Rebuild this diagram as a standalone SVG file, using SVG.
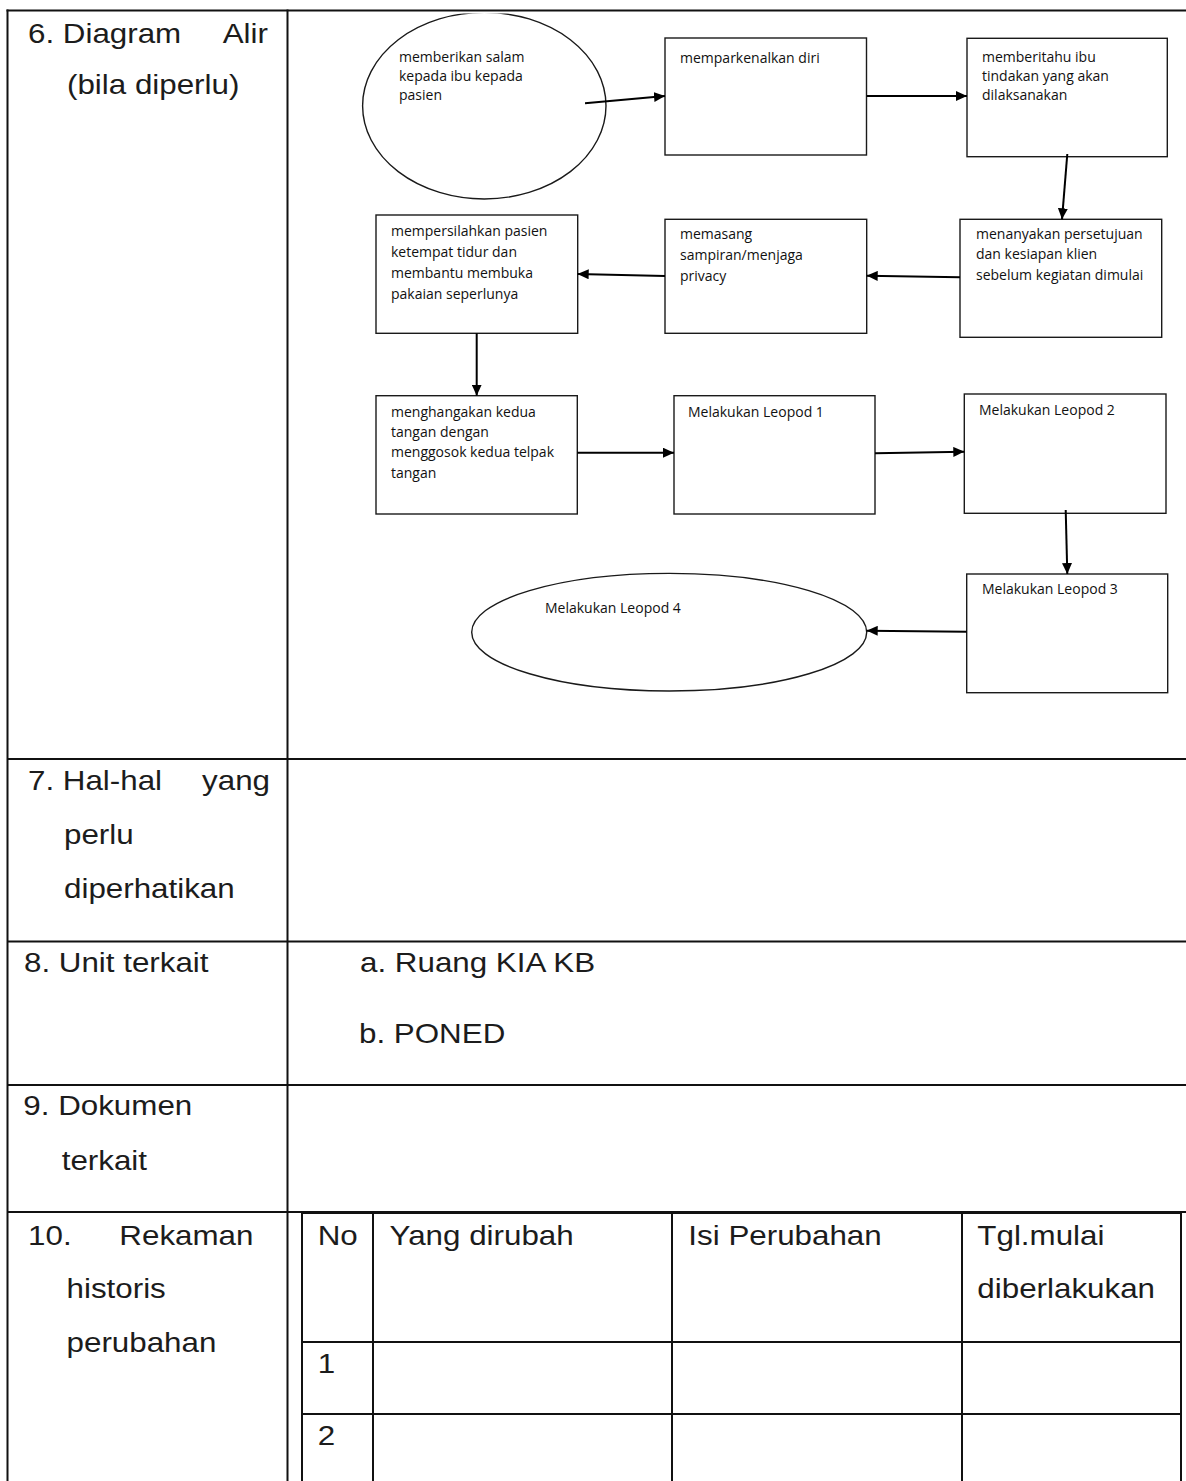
<svg xmlns="http://www.w3.org/2000/svg" width="1186" height="1481" viewBox="0 0 1186 1481">
  <style>
    .cell { font-family: "Liberation Sans", Arial, sans-serif; font-size: 28.5px; fill: #1c1c1c; }
    .grid line { stroke: #111; stroke-width: 2; }
    .shape { fill: #fff; stroke: #1a1a1a; stroke-width: 1.4; }
    .lbl { font-family: "Open Sans", "Noto Sans", sans-serif; font-size: 14px; fill: #111; }
    .conn { stroke: #000; stroke-width: 2; fill: none; marker-end: url(#head); }
  </style>
  <defs>
    <marker id="head" markerUnits="userSpaceOnUse" markerWidth="11" markerHeight="10" refX="11" refY="5" orient="auto">
      <path d="M0,0 L11,5 L0,10 z" fill="#000"/>
    </marker>
    <clipPath id="below-top">
      <rect x="0" y="13.6" width="1186" height="1467"/>
    </clipPath>
  </defs>

  <rect width="1186" height="1481" fill="#fff"/>

  <!-- table rules -->
  <g class="grid" id="table-grid">
    <line x1="6.5" y1="10.5" x2="1186" y2="10.5"/>
    <line x1="7.5" y1="9.5" x2="7.5" y2="1481"/>
    <line x1="287.5" y1="9.5" x2="287.5" y2="1481"/>
    <line x1="7.5" y1="759" x2="1186" y2="759"/>
    <line x1="7.5" y1="941.5" x2="1186" y2="941.5"/>
    <line x1="7.5" y1="1085" x2="1186" y2="1085"/>
    <line x1="7.5" y1="1212" x2="1186" y2="1212"/>
    <!-- change-history sub table -->
    <line x1="302" y1="1213" x2="1181" y2="1213"/>
    <line x1="302" y1="1212" x2="302" y2="1481"/>
    <line x1="373" y1="1212" x2="373" y2="1481"/>
    <line x1="672" y1="1212" x2="672" y2="1481"/>
    <line x1="962" y1="1212" x2="962" y2="1481"/>
    <line x1="1181" y1="1212" x2="1181" y2="1481"/>
    <line x1="302" y1="1342" x2="1181" y2="1342"/>
    <line x1="302" y1="1414" x2="1181" y2="1414"/>
  </g>

  <!-- table text (Arial metrics, slightly widened) -->
  <g id="table-text" class="cell" transform="scale(1.1 1)">
    <text x="25.45" y="43">6. Diagram</text>
    <text x="243.6" y="43" text-anchor="end">Alir</text>
    <text x="60.9" y="94">(bila diperlu)</text>

    <text x="25.45" y="790">7. Hal-hal</text>
    <text x="245.45" y="790" text-anchor="end">yang</text>
    <text x="58.2" y="844">perlu</text>
    <text x="58.2" y="898">diperhatikan</text>

    <text x="21.8" y="972">8. Unit terkait</text>
    <text x="327.3" y="972">a. Ruang KIA KB</text>
    <text x="326.4" y="1043">b. PONED</text>

    <text x="21.2" y="1115">9. Dokumen</text>
    <text x="56.1" y="1170">terkait</text>

    <text x="25.5" y="1245">10.</text>
    <text x="230.4" y="1245" text-anchor="end">Rekaman</text>
    <text x="60.5" y="1298">historis</text>
    <text x="60.5" y="1352">perubahan</text>

    <text x="288.8" y="1245">No</text>
    <text x="354.2" y="1245">Yang dirubah</text>
    <text x="625.8" y="1245">Isi Perubahan</text>
    <text x="888.5" y="1245">Tgl.mulai</text>
    <text x="888.5" y="1298">diberlakukan</text>
    <text x="288.8" y="1373">1</text>
    <text x="288.8" y="1445">2</text>
  </g>

  <!-- flow nodes -->
  <g id="n-salam">
    <ellipse class="shape" cx="484.3" cy="105.7" rx="121.7" ry="93.3" clip-path="url(#below-top)"/>
    <text class="lbl" x="399" y="62">memberikan salam</text>
    <text class="lbl" x="399" y="81">kepada ibu kepada</text>
    <text class="lbl" x="399" y="100">pasien</text>
  </g>
  <g id="n-kenal">
    <rect class="shape" x="665" y="38" width="201.5" height="117"/>
    <text class="lbl" x="680" y="63">memparkenalkan diri</text>
  </g>
  <g id="n-beritahu">
    <rect class="shape" x="967" y="38.3" width="200.3" height="118.4"/>
    <text class="lbl" x="982" y="62">memberitahu ibu</text>
    <text class="lbl" x="982" y="81">tindakan yang akan</text>
    <text class="lbl" x="982" y="100">dilaksanakan</text>
  </g>
  <g id="n-setuju">
    <rect class="shape" x="960" y="219.3" width="201.7" height="118"/>
    <text class="lbl" x="976" y="239">menanyakan persetujuan</text>
    <text class="lbl" x="976" y="259">dan kesiapan klien</text>
    <text class="lbl" x="976" y="280">sebelum kegiatan dimulai</text>
  </g>
  <g id="n-sampiran">
    <rect class="shape" x="665" y="219.3" width="201.7" height="114"/>
    <text class="lbl" x="680" y="239">memasang</text>
    <text class="lbl" x="680" y="260">sampiran/menjaga</text>
    <text class="lbl" x="680" y="281">privacy</text>
  </g>
  <g id="n-tempat-tidur">
    <rect class="shape" x="376" y="215" width="201.7" height="118.3"/>
    <text class="lbl" x="391" y="236">mempersilahkan pasien</text>
    <text class="lbl" x="391" y="257">ketempat tidur dan</text>
    <text class="lbl" x="391" y="278">membantu membuka</text>
    <text class="lbl" x="391" y="299">pakaian seperlunya</text>
  </g>
  <g id="n-hangat">
    <rect class="shape" x="376" y="395.7" width="201.3" height="118.3"/>
    <text class="lbl" x="391" y="417">menghangakan kedua</text>
    <text class="lbl" x="391" y="437">tangan dengan</text>
    <text class="lbl" x="391" y="457">menggosok kedua telpak</text>
    <text class="lbl" x="391" y="478">tangan</text>
  </g>
  <g id="n-leopod1">
    <rect class="shape" x="674" y="395.7" width="201" height="118.3"/>
    <text class="lbl" x="688" y="417">Melakukan Leopod 1</text>
  </g>
  <g id="n-leopod2">
    <rect class="shape" x="964.3" y="394" width="201.7" height="119.3"/>
    <text class="lbl" x="979" y="415">Melakukan Leopod 2</text>
  </g>
  <g id="n-leopod3">
    <rect class="shape" x="966.7" y="574" width="201" height="118.7"/>
    <text class="lbl" x="982" y="594">Melakukan Leopod 3</text>
  </g>
  <g id="n-leopod4">
    <ellipse class="shape" cx="669.2" cy="632.2" rx="197.5" ry="58.8"/>
    <text class="lbl" x="545" y="613">Melakukan Leopod 4</text>
  </g>

  <!-- connectors -->
  <g id="connectors">
    <line class="conn" x1="585" y1="103.3" x2="665" y2="96"/>
    <line class="conn" x1="866.7" y1="96" x2="967" y2="96"/>
    <line class="conn" x1="1067.3" y1="154" x2="1062" y2="219.3"/>
    <line class="conn" x1="960" y1="277.3" x2="866.7" y2="275.7"/>
    <line class="conn" x1="665" y1="276" x2="577.7" y2="274"/>
    <line class="conn" x1="476.7" y1="333.3" x2="476.7" y2="395.7"/>
    <line class="conn" x1="577.3" y1="452.7" x2="674" y2="452.7"/>
    <line class="conn" x1="875" y1="453.3" x2="964.3" y2="451.7"/>
    <line class="conn" x1="1065.7" y1="510" x2="1067.3" y2="574"/>
    <line class="conn" x1="966.7" y1="631.7" x2="866.7" y2="630.7"/>
  </g>
</svg>
